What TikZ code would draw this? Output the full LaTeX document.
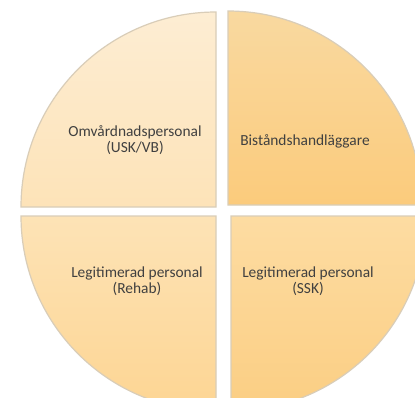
\documentclass[tikz,border=0pt]{standalone}
\usepackage{fontspec}
\setmainfont{Carlito}
\definecolor{edge}{HTML}{D9CDB8}
\definecolor{txt}{HTML}{404040}
\definecolor{tlA}{HTML}{FDEDD3}
\definecolor{tlB}{HTML}{FDE3B8}
\definecolor{trA}{HTML}{F9D9A0}
\definecolor{trB}{HTML}{FBCB7C}
\definecolor{blA}{HTML}{FDE3B6}
\definecolor{blB}{HTML}{FDD593}
\definecolor{brA}{HTML}{FDDCA2}
\definecolor{brB}{HTML}{FBCE83}
\begin{document}
\begin{tikzpicture}[x=1pt,y=-1pt,
  quarter/.style={draw=edge,line width=1.2pt},
  lbl/.style={text=txt,font=\fontsize{15.4}{16.5}\selectfont,align=center,inner sep=0pt}]
\useasboundingbox (0,0) rectangle (415,397);
\fill[white] (0,0) rectangle (415,397);
% top left
\shade[quarter,top color=tlA,bottom color=tlB]
  (216,207) -- (21,207) arc[start angle=180,end angle=270,radius=195] -- cycle;
% top right
\shade[quarter,top color=trA,bottom color=trB]
  (228,205) -- (228,11) arc[start angle=270,end angle=360,radius=194] -- cycle;
% bottom left
\shade[quarter,top color=blA,bottom color=blB]
  (216,216) -- (216,411) arc[start angle=90,end angle=180,radius=195] -- cycle;
% bottom right
\shade[quarter,top color=brA,bottom color=brB]
  (231,216) -- (426,216) arc[start angle=0,end angle=90,radius=195] -- cycle;
\node[lbl] (tl) at (135,140) {Omvårdnadspersonal\\(USK/VB)};
\node[lbl] (tr) at (305,141) {Biståndshandläggare};
\node[lbl] (bl) at (137,281) {Legitimerad personal\\(Rehab)};
\node[lbl] (br) at (308,281) {Legitimerad personal\\(SSK)};
\end{tikzpicture}
\end{document}
